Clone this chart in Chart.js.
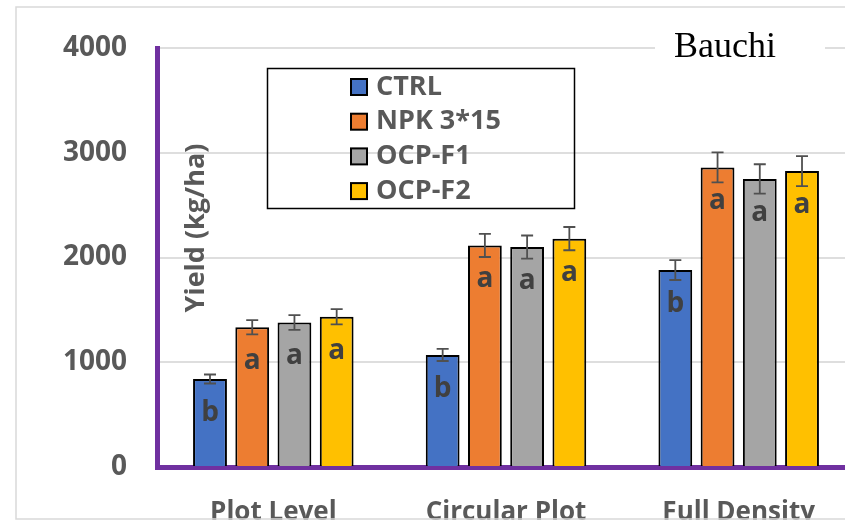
<!DOCTYPE html>
<html>
<head>
<meta charset="utf-8">
<script src="https://cdn.jsdelivr.net/npm/chart.js@4"></script>
<style>
    html, body { margin: 0; padding: 0; background: #fff; overflow: hidden; }
    #wrap { width: 845px; height: 523px; overflow: hidden; }
</style>
</head>
<body>
<div id="wrap"><canvas id="chart" width="870" height="523"></canvas></div>
<script>
'use strict';

// Chart data
const categories = ['Plot Level', 'Circular Plot', 'Full Density'];
const seriesNames = ['CTRL', 'NPK 3*15', 'OCP-F1', 'OCP-F2'];
const ctrlYield = [840, 1070, 1880];
const npkYield = [1335, 2115, 2860];
const ocpF1Yield = [1380, 2100, 2750];
const ocpF2Yield = [1435, 2180, 2825];
const ctrlErr = [43, 58, 95];
const npkErr = [68, 110, 143];
const ocpF1Err = [70, 110, 140];
const ocpF2Err = [73, 111, 143];
const ctrlLetters = ['b', 'b', 'b'];
const npkLetters = ['a', 'a', 'a'];
const ocpF1Letters = ['a', 'a', 'a'];
const ocpF2Letters = ['a', 'a', 'a'];
const yTicks = [0, 1000, 2000, 3000, 4000];

const colors = ['#4472C4', '#ED7D31', '#A5A5A5', '#FFC000'];
const textGray = '#595959';
const font = "'Open Sans', sans-serif";

// Error bars and significance letters drawn on top of each bar
const errorBars = {
    id: 'errorBars',
    afterDatasetsDraw(chart) {
        let ctx = chart.ctx;
        let y = chart.scales.y;
        chart.data.datasets.forEach((ds, i) => {
            let meta = chart.getDatasetMeta(i);
            meta.data.forEach((bar, j) => {
                let v = ds.data[j];
                let e = ds.errors[j];
                let top = y.getPixelForValue(v + e);
                let bottom = y.getPixelForValue(v - e);
                ctx.save();
                ctx.strokeStyle = '#505050';
                ctx.lineWidth = 1.8;
                ctx.beginPath();
                ctx.moveTo(bar.x, top);
                ctx.lineTo(bar.x, bottom);
                ctx.moveTo(bar.x - 6, top);
                ctx.lineTo(bar.x + 6, top);
                ctx.moveTo(bar.x - 6, bottom);
                ctx.lineTo(bar.x + 6, bottom);
                ctx.stroke();
                // letter inside the bar
                ctx.fillStyle = '#404040';
                ctx.font = 'bold 28px ' + font;
                ctx.textAlign = 'center';
                ctx.textBaseline = 'middle';
                ctx.fillText(ds.letters[j], bar.x, bar.y + 34);
                ctx.restore();
            });
        });
    }
};

// Frame, title, y axis label and boxed legend
const decorations = {
    id: 'decorations',
    beforeDatasetsDraw(chart) {
        let ctx = chart.ctx;
        ctx.save();
        // white patch behind the site name
        ctx.fillStyle = '#fff';
        ctx.fillRect(655, 30, 170, 36);
        ctx.fillStyle = '#000';
        ctx.font = "36px 'Liberation Serif', 'Times New Roman', serif";
        ctx.textAlign = 'left';
        ctx.textBaseline = 'alphabetic';
        ctx.fillText('Bauchi', 674, 57);
        ctx.restore();
    },
    afterDraw(chart) {
        let ctx = chart.ctx;
        ctx.save();
        // y axis title inside plot
        ctx.translate(196, 228);
        ctx.rotate(-Math.PI / 2);
        ctx.fillStyle = textGray;
        ctx.font = 'bold 27px ' + font;
        ctx.textAlign = 'center';
        ctx.textBaseline = 'middle';
        ctx.fillText('Yield (kg/ha)', 0, 0);
        ctx.restore();

        // legend box
        ctx.save();
        ctx.strokeStyle = '#000';
        ctx.lineWidth = 1.5;
        ctx.strokeRect(267.5, 68.5, 307, 140);
        chart.data.datasets.forEach((ds, i) => {
            let cy = 87 + i * 34.7;
            ctx.fillStyle = ds.backgroundColor;
            ctx.fillRect(351, cy - 8, 16, 16);
            ctx.lineWidth = 2;
            ctx.strokeRect(351, cy - 8, 16, 16);
            ctx.fillStyle = textGray;
            ctx.font = 'bold 27px ' + font;
            ctx.textAlign = 'left';
            ctx.textBaseline = 'middle';
            ctx.fillText(ds.label, 376, cy);
        });
        ctx.restore();

        // outer frame clips the category labels
        ctx.save();
        ctx.fillStyle = '#fff';
        ctx.fillRect(0, 520, chart.width, 10);
        ctx.strokeStyle = '#d9d9d9';
        ctx.lineWidth = 1.5;
        ctx.strokeRect(16, 7, 900, 512);
        ctx.restore();
    }
};

let datasets = [
    {label: seriesNames[0], data: ctrlYield, errors: ctrlErr, letters: ctrlLetters},
    {label: seriesNames[1], data: npkYield, errors: npkErr, letters: npkLetters},
    {label: seriesNames[2], data: ocpF1Yield, errors: ocpF1Err, letters: ocpF1Letters},
    {label: seriesNames[3], data: ocpF2Yield, errors: ocpF2Err, letters: ocpF2Letters}
].map((ds, i) => Object.assign(ds, {
    backgroundColor: colors[i],
    borderColor: '#000',
    borderWidth: 2,
    categoryPercentage: 0.726,
    barPercentage: 0.8
}));

let ctx = document.getElementById('chart').getContext('2d');
let chart = new Chart(ctx, {
    type: 'bar',
    data: {labels: categories, datasets: datasets},
    plugins: [errorBars, decorations],
    options: {
        responsive: false,
        animation: false,
        layout: {padding: {left: 0, right: 15, top: 48, bottom: 0}},
        plugins: {
            legend: {display: false},
            tooltip: {enabled: false}
        },
        scales: {
            x: {
                grid: {display: false, drawTicks: false},
                border: {color: '#7030A0', width: 5},
                ticks: {
                    color: textGray,
                    padding: 30,
                    font: {family: font, size: 26, weight: 'bold'}
                },
                afterFit: (scale) => { scale.height = 56; }
            },
            y: {
                min: 0,
                max: 4000,
                afterBuildTicks: (scale) => { scale.ticks = yTicks.map(v => ({value: v})); },
                grid: {color: '#dedede', lineWidth: 2, drawTicks: false},
                border: {color: '#7030A0', width: 5},
                ticks: {
                    color: textGray,
                    padding: 30,
                    font: {family: font, size: 28, weight: 'bold'},
                    callback: (v) => String(v)
                },
                afterFit: (scale) => { scale.width = 157; }
            }
        }
    }
});
</script>
</body>
</html>
